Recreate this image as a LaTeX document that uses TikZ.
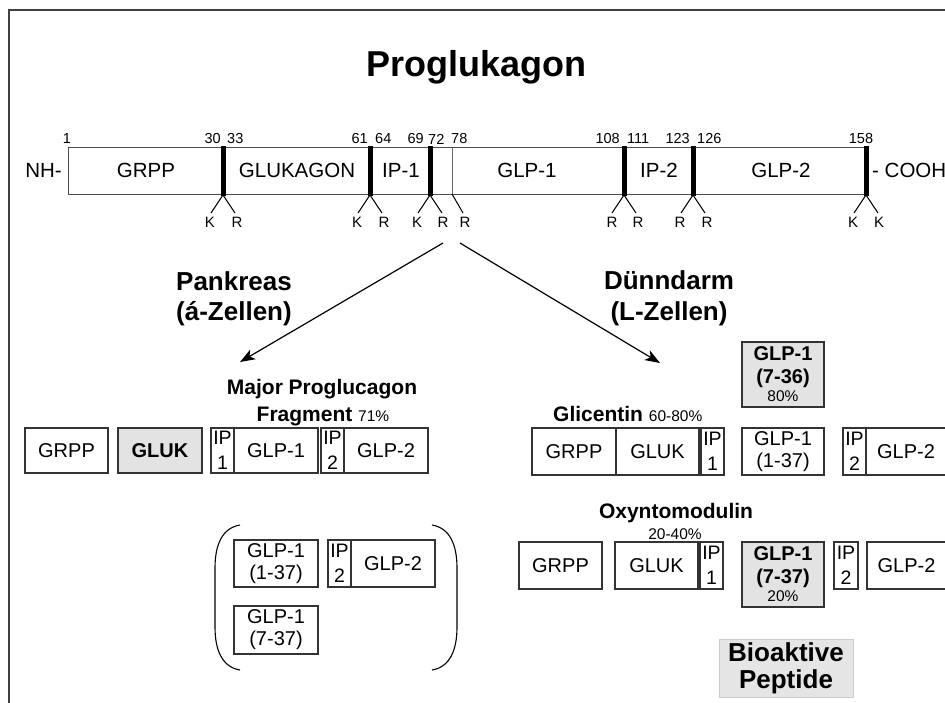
\documentclass[tikz,border=0pt]{standalone}
\usepackage{fontspec}
\setmainfont{Liberation Sans}
\usetikzlibrary{arrows.meta}
\newcommand\fz[2]{\fontsize{#1}{#2}\selectfont}
\newcommand\bx[7][box]{%
  \pgfmathsetmacro\bw{#5-#3}\pgfmathsetmacro\bh{#6-#4}%
  \pgfmathsetmacro\bcx{(#3+#5)/2}\pgfmathsetmacro\bcy{(#4+#6)/2}%
  \node[#1, minimum width=\bw pt, minimum height=\bh pt] (#2) at (\bcx,\bcy) {#7};}
\begin{document}
\begin{tikzpicture}[x=1pt,y=-1pt,
  box/.style={draw=black!80, line width=1.1pt, inner sep=0pt, align=center, font=\fz{20}{22}},
  gbox/.style={box, fill=black!11},
  ipbox/.style={box, font=\fz{19.5}{25}},
  num/.style={font=\fz{14.5}{14.5}, inner sep=0pt},
  aa/.style={font=\fz{15}{15}, inner sep=0pt},
  seg/.style={font=\fz{20.5}{20.5}, inner sep=0pt},
  cut/.style={line width=5pt},
  tick/.style={line width=1pt},
  head/.style={font=\bfseries\fz{26}{30}, inner sep=0pt, anchor=base},
  sub/.style={font=\bfseries\fz{21}{21}, inner sep=0pt, anchor=base},
  arr/.style={line width=1.2pt, -{Stealth[length=15pt,width=11pt,inset=4pt]}}
]
\useasboundingbox (0,0) rectangle (945,702);
\fill[white] (0,0) rectangle (945,702);
\draw[line width=1.5pt, black!75] (9,703) -- (9,10) -- (946,10);

% title
\node[font=\bfseries\fz{36}{36}, inner sep=0pt, anchor=base] (title) at (476,76) {Proglukagon};

% bar
\bx[draw=black!70, line width=0.8pt, inner sep=0pt]{bar}{68}{147}{866}{194}{}
\draw[line width=0.6pt, black!60] (452,147) -- (452,194);
\foreach \x in {223,370,430,624,693,866} {
  \draw[tick] (\x-12,213) -- (\x,195) -- (\x+12,213);
  \draw[cut] (\x,146) -- (\x,196);
}
\draw[tick] (452,194) -- (463,213);

\node[seg, anchor=east] (nh) at (62,170) {NH-};
\node[seg, anchor=west] (cooh) at (872,170) {- COOH};
\node[seg] (sgrpp) at (146,170) {GRPP};
\node[seg] (sgluk) at (297,170) {GLUKAGON};
\node[seg] (sip1) at (401,170) {IP-1};
\node[seg] (sglp1) at (527,170) {GLP-1};
\node[seg] (sip2) at (659,170) {IP-2};
\node[seg] (sglp2) at (781,170) {GLP-2};

% numbers
\node[num] (n1) at (67,139) {1};
\node[num, anchor=east] (n30) at (221,139) {30};
\node[num, anchor=west] (n33) at (227,139) {33};
\node[num, anchor=east] (n61) at (368,139) {61};
\node[num, anchor=west] (n64) at (375,139) {64};
\node[num, anchor=east] (n69) at (424,139) {69};
\node[num, anchor=west] (n72) at (428,139) {72};
\node[num, anchor=west] (n78) at (451,139) {78};
\node[num, anchor=east] (n108) at (620,139) {108};
\node[num, anchor=west] (n111) at (627,139) {111};
\node[num, anchor=east] (n123) at (690,139) {123};
\node[num, anchor=west] (n126) at (697,139) {126};
\node[num] (n158) at (861,139) {158};

% K / R
\node[aa] (k30) at (210,222) {K};
\node[aa] (r33) at (237,222) {R};
\node[aa] (k61) at (357,222) {K};
\node[aa] (r64) at (384,222) {R};
\node[aa] (k69) at (417,222) {K};
\node[aa] (r72) at (443,222) {R};
\node[aa] (r78) at (465,222) {R};
\node[aa] (r108) at (612,222) {R};
\node[aa] (r111) at (638,222) {R};
\node[aa] (r123) at (680,222) {R};
\node[aa] (r126) at (707,222) {R};
\node[aa] (k158a) at (853,222) {K};
\node[aa] (k158b) at (879,222) {K};

% arrows
\coordinate (splitL) at (443,243);
\coordinate (splitR) at (460,243);
\coordinate (tipL) at (240,362);
\coordinate (tipR) at (660,363);
\draw[arr] (splitL) -- (tipL);
\draw[arr] (splitR) -- (tipR);

\node[head] (pank1) at (234,290) {Pankreas};
\node[head] (pank2) at (234,320) {(á-Zellen)};
\node[head] (dunn1) at (669,289) {Dünndarm};
\node[head] (dunn2) at (669,320) {(L-Zellen)};

% left: major proglucagon fragment
\node[sub] (mpf1) at (322,394) {Major Proglucagon};
\node[sub] (mpf2) at (323,421) {Fragment {\mdseries\fz{15.5}{15.5}71\%}};
\bx{lgrpp}{25}{428}{108}{473}{GRPP}
\bx[gbox, font=\bfseries\fz{20}{22}]{lgluk}{118}{428}{202}{473}{GLUK}
\bx[ipbox]{lip1}{211}{428}{234}{473}{IP\\1}
\bx{lglp1}{234}{428}{318}{473}{GLP-1}
\bx[ipbox]{lip2}{321}{428}{344}{473}{IP\\2}
\bx{lglp2}{344}{428}{428}{473}{GLP-2}

% bracket group
\draw[line width=1.1pt] (240,525) .. controls (222,528) and (215,545) .. (215,568) -- (215,627) .. controls (215,650) and (222,667) .. (240,670);
\draw[line width=1.1pt] (432,525) .. controls (450,528) and (457,545) .. (457,568) -- (457,627) .. controls (457,650) and (450,667) .. (432,670);
\bx{bglp1a}{234}{540}{318}{587}{GLP-1\\(1-37)}
\bx[ipbox]{bip2}{328}{540}{351}{587}{IP\\2}
\bx{bglp2}{351}{540}{435}{587}{GLP-2}
\bx{bglp1b}{234}{606}{318}{654}{GLP-1\\(7-37)}

% right: glicentin
\bx[gbox]{g736}{742}{342}{824}{407}{\textbf{GLP-1}\\[1pt]\textbf{(7-36)}\\[-4pt]{\fz{15.5}{16}80\%}}
\node[sub, anchor=base west] (glic) at (553,421) {Glicentin {\mdseries\fz{15.5}{15.5}60-80\%}};
\bx{ggrpp}{532}{428}{616}{475}{GRPP}
\bx{ggluk}{616}{428}{699}{475}{GLUK}
\bx[ipbox]{gip1}{701}{428}{724}{475}{IP\\1}
\bx{gglp1}{742}{428}{824}{475}{GLP-1\\(1-37)}
\bx[ipbox]{gip2}{843}{428}{866}{475}{IP\\2}
\bx{gglp2}{866}{428}{950}{475}{\hspace*{-4pt}GLP-2}

% right: oxyntomodulin
\node[sub] (oxy) at (676,518) {Oxyntomodulin};
\node[font=\fz{15.5}{15.5}, inner sep=0pt, anchor=base] (oxyp) at (675,539) {20-40\%};
\bx{ogrpp}{519}{542}{602}{589}{GRPP}
\bx{ogluk}{615}{542}{698}{589}{GLUK}
\bx[ipbox]{oip1}{700}{542}{723}{589}{IP\\1}
\bx[gbox]{o737}{742}{542}{824}{607}{\textbf{GLP-1}\\[1pt]\textbf{(7-37)}\\[-4pt]{\fz{15.5}{16}20\%}}
\bx[ipbox]{oip2}{834}{542}{858}{589}{IP\\2}
\bx{oglp2}{867}{542}{950}{589}{\hspace*{-4pt}GLP-2}

% bioaktive peptide
\bx[draw=black!20, line width=0.8pt, fill=black!10, inner sep=0pt, align=center,
      font=\bfseries\fz{26}{27}]{bio}{719}{639}{853}{697}{Bioaktive\\Peptide}
\end{tikzpicture}
\end{document}
